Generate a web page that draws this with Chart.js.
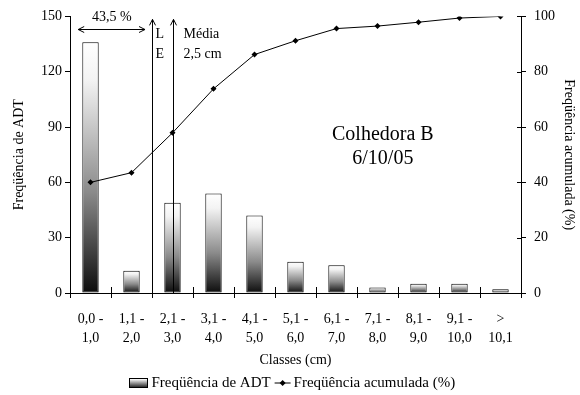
<!DOCTYPE html>
<html>
<head>
<meta charset="utf-8">
<script src="https://cdn.jsdelivr.net/npm/chart.js@4.4.1/dist/chart.umd.min.js"></script>
<style>
html, body { margin: 0; padding: 0; background: #fff; }
#wrap { width: 580px; height: 395px; }
</style>
</head>
<body>
<div id="wrap"><canvas id="grafico"></canvas></div>
<script>
const classes = [['0,0 -', '1,0'], ['1,1 -', '2,0'], ['2,1 -', '3,0'], ['3,1 -', '4,0'], ['4,1 -', '5,0'],
    ['5,1 -', '6,0'], ['6,1 -', '7,0'], ['7,1 -', '8,0'], ['8,1 -', '9,0'], ['9,1 -', '10,0'], ['>', '10,1']];
const freqADT = [136, 12, 49, 54, 42, 17, 15, 3, 5, 5, 2];
const freqAcum = [40, 43.5, 57.9, 73.8, 86.2, 91.2, 95.6, 96.5, 97.9, 99.4, 100];
const ticksADT = [0, 30, 60, 90, 120, 150];
const ticksAcum = [0, 20, 40, 60, 80, 100];

const FONTE = 'Liberation Serif';
Chart.defaults.font.family = FONTE;
Chart.defaults.font.size = 14;
Chart.defaults.color = '#000';

// degradê branco -> preto em cada barra
function degrade(ctx) {
    const chart = ctx.chart;
    if (!chart.chartArea || ctx.type !== 'data') return '#888';
    const y = chart.scales.y;
    const topo = y.getPixelForValue(freqADT[ctx.dataIndex]);
    const base = y.getPixelForValue(0);
    const g = chart.ctx.createLinearGradient(0, topo, 0, base);
    g.addColorStop(0, '#ffffff');
    g.addColorStop(0.15, '#f3f3f3');
    g.addColorStop(0.6, '#8a8a8a');
    g.addColorStop(1, '#0c0c0c');
    return g;
}

function seta(c, x, y0, y1) {
    c.beginPath();
    c.moveTo(x, y0); c.lineTo(x, y1);
    c.moveTo(x - 3, y1 + 6); c.lineTo(x, y1); c.lineTo(x + 3, y1 + 6);
    c.stroke();
}

const anotacoes = {
    id: 'anotacoes',
    afterDatasetsDraw(chart) {
        const c = chart.ctx;
        const xs = chart.scales.x, ys = chart.scales.y, y1 = chart.scales.y1;
        const area = chart.chartArea;
        c.save();
        c.strokeStyle = '#000';
        c.fillStyle = '#000';
        c.lineWidth = 1;

        // setas verticais (L E e média)
        const xL = Math.round(xs.getPixelForValue(1.5)) + 0.5;
        const xM = Math.round(xs.getPixelForValue(2)) + 0.5;
        seta(c, xL, ys.getPixelForValue(2), ys.getPixelForValue(148.4));
        seta(c, xM, ys.getPixelForValue(0), ys.getPixelForValue(148.4));

        // seta dupla 43,5 %
        const yd = Math.round(ys.getPixelForValue(143)) + 0.5;
        const xa = xs.getPixelForValue(-0.3), xb = xs.getPixelForValue(1.33);
        c.beginPath();
        c.moveTo(xa, yd); c.lineTo(xb, yd);
        c.moveTo(xa + 6, yd - 3); c.lineTo(xa, yd); c.lineTo(xa + 6, yd + 3);
        c.moveTo(xb - 6, yd - 3); c.lineTo(xb, yd); c.lineTo(xb - 6, yd + 3);
        c.stroke();

        c.font = '14px ' + FONTE;
        c.textBaseline = 'middle';
        c.textAlign = 'center';
        c.fillText('43,5 %', xs.getPixelForValue(0.52), ys.getPixelForValue(149.3));
        c.textAlign = 'left';
        c.fillText('L', xL + 3, ys.getPixelForValue(140.5));
        c.fillText('E', xL + 3, ys.getPixelForValue(129.5));
        c.fillText('Média', xM + 10, ys.getPixelForValue(140.5));
        c.fillText('2,5 cm', xM + 10, ys.getPixelForValue(129.5));

        c.font = '20px ' + FONTE;
        c.textAlign = 'center';
        c.fillText('Colhedora B', xs.getPixelForValue(7.13), ys.getPixelForValue(86));
        c.fillText('6/10/05', xs.getPixelForValue(7.13), ys.getPixelForValue(72.6));

        // marcas internas dos eixos
        c.beginPath();
        for (let i = 0; i <= classes.length; i++) {
            const x = Math.round(xs.getPixelForValue(i - 0.5)) + 0.5;
            c.moveTo(x, area.bottom); c.lineTo(x, area.bottom - 6);
        }
        ticksAcum.forEach(v => {
            const y = Math.round(y1.getPixelForValue(v)) + 0.5;
            c.moveTo(area.right, y); c.lineTo(area.right - 4, y);
        });
        c.stroke();

        // legenda
        const yl = 383;
        c.font = '15px ' + FONTE;
        const t1 = 'Freqüência de ADT', t2 = 'Freqüência acumulada (%)';
        const w = 18 + 4 + c.measureText(t1).width + 4 + 16 + 3 + c.measureText(t2).width;
        let x = Math.round(292 - w / 2) + 0.5;
        const g = c.createLinearGradient(0, yl - 4, 0, yl + 5);
        g.addColorStop(0, '#fff'); g.addColorStop(1, '#111');
        c.fillStyle = g;
        c.fillRect(x, yl - 4.5, 18, 9);
        c.strokeRect(x, yl - 4.5, 18, 9);
        c.fillStyle = '#000';
        c.textAlign = 'left';
        x += 22;
        c.fillText(t1, x, yl);
        x += c.measureText(t1).width + 4;
        c.beginPath(); c.moveTo(x, yl); c.lineTo(x + 16, yl); c.stroke();
        c.beginPath();
        c.moveTo(x + 8, yl - 3); c.lineTo(x + 11, yl); c.lineTo(x + 8, yl + 3); c.lineTo(x + 5, yl);
        c.closePath(); c.fill();
        x += 19;
        c.fillText(t2, x, yl);
        c.restore();
    }
};

const ctx = document.getElementById('grafico').getContext('2d');
new Chart(ctx, {
    data: {
        labels: classes,
        datasets: [{
            type: 'line',
            label: 'Freqüência acumulada (%)',
            data: freqAcum,
            yAxisID: 'y1',
            borderColor: '#000',
            borderWidth: 1,
            pointStyle: 'rectRot',
            pointRadius: 3,
            pointBackgroundColor: '#000',
            pointBorderWidth: 0,
            tension: 0,
            order: 0
        }, {
            type: 'bar',
            label: 'Freqüência de ADT',
            data: freqADT,
            yAxisID: 'y',
            backgroundColor: degrade,
            borderColor: '#000',
            borderWidth: 1,
            borderSkipped: false,
            barPercentage: 0.4,
            categoryPercentage: 1,
            order: 1
        }]
    },
    options: {
        responsive: true,
        maintainAspectRatio: false,
        animation: false,
        layout: { padding: { left: 0, right: 0, top: 15, bottom: 23 } },
        plugins: {
            legend: { display: false },
            tooltip: { enabled: false }
        },
        scales: {
            x: {
                grid: { drawOnChartArea: false, tickLength: 5, color: '#000', offset: true },
                border: { color: '#000' },
                ticks: { maxRotation: 0, autoSkip: false, padding: 12, font: { size: 14, lineHeight: 1.35 } },
                title: { display: true, text: 'Classes (cm)', padding: { top: 2, bottom: 3 } },
                afterFit: s => { s.height = 79; }
            },
            y: {
                position: 'left',
                min: 0, max: 150,
                ticks: { stepSize: 30, padding: 3 },
                grid: { drawOnChartArea: false, tickLength: 5, color: '#000' },
                border: { color: '#000' },
                title: { display: true, text: 'Freqüência de ADT', padding: { top: 11, bottom: 4 } },
                afterFit: s => { s.width = 70; }
            },
            y1: {
                position: 'right',
                min: 0, max: 100,
                ticks: { stepSize: 20, padding: 8 },
                grid: { drawOnChartArea: false, tickLength: 5, color: '#000' },
                border: { color: '#000' },
                title: { display: true, text: 'Freqüência acumulada (%)', padding: { top: 3, bottom: 4 } },
                afterFit: s => { s.width = 59; }
            }
        }
    },
    plugins: [anotacoes]
});
</script>
</body>
</html>
